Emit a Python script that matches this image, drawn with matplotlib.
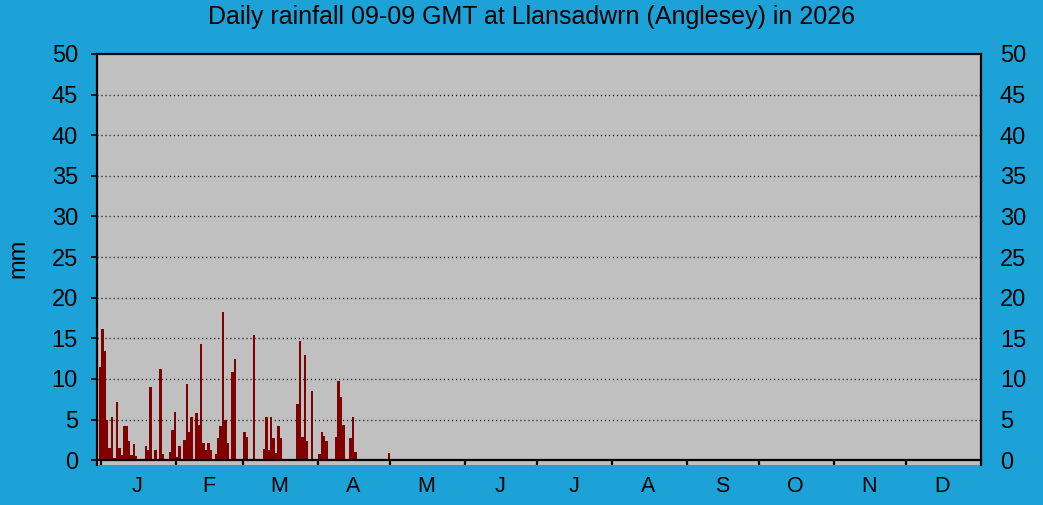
import numpy as np
import matplotlib
matplotlib.use("Agg")
import matplotlib.pyplot as plt

plt.rcParams['font.family'] = ['Liberation Sans', 'DejaVu Sans']

# daily rainfall (mm), 09-09 GMT
jan = [11.5, 16.2, 13.4, 4.9, 1.5, 5.3, 0.3, 7.2, 1.5, 0.6, 4.2, 4.2, 2.3, 0.6, 2.0, 0.5,
       0, 0, 0, 1.7, 1.3, 9.0, 0, 1.2, 0, 11.2, 0.7, 0, 0.2, 1.0, 3.7]
feb = [5.9, 0.4, 1.8, 0, 2.5, 9.4, 3.5, 5.3, 0.2, 5.8, 4.3, 14.3, 2.1, 1.2, 2.1, 1.2,
       0, 0.7, 2.7, 4.2, 18.2, 4.9, 2.1, 0, 10.8, 12.4, 0, 0]
mar = [0, 3.5, 2.9, 0, 0, 15.4, 0, 0, 0, 1.4, 5.3, 1.2, 5.3, 2.7, 0.9, 4.2, 2.7,
       0, 0, 0, 0, 0, 0, 6.9, 14.7, 2.9, 13.0, 2.3, 0, 8.5, 0.2]
apr = [0, 0.8, 3.5, 3.0, 2.4, 0, 0, 0, 2.8, 9.8, 7.8, 4.3, 0, 0, 2.7, 5.3, 1.0,
       0, 0, 0, 0, 0, 0, 0, 0, 0, 0, 0, 0, 0]
may = [0.9]

month_labels = ['J', 'F', 'M', 'A', 'M', 'J', 'J', 'A', 'S', 'O', 'N', 'D']
month_days = [31, 28, 31, 30, 31, 30, 31, 31, 30, 31, 30, 31]

rain = np.array(jan + feb + mar + apr + may)
days = np.arange(len(rain))

month_start = np.concatenate([[0], np.cumsum(month_days)[:-1]])
month_mid = month_start + np.array(month_days) / 2.0

bg = '#1ca2d6'
fig = plt.figure(figsize=(10.43, 5.05), dpi=100, facecolor=bg)
ax = fig.add_axes([0.0927, 0.0792, 0.8479, 0.8139])
ax.set_facecolor('#c0c0c0')

ax.bar(days, rain, width=1.0, color='#800000', linewidth=0, align='center',
       antialiased=False, zorder=3)

ax.set_xlim(-1.4, 365.6)
ax.set_ylim(-0.6, 50)

for y in range(5, 50, 5):
    ax.axhline(y, color='black', lw=1.0, linestyle=(0, (0.7, 2.2)), zorder=2)
ax.axhline(0, color='black', lw=1.6, zorder=4)

for s in ['left', 'right', 'top']:
    ax.spines[s].set_linewidth(1.6)
    ax.spines[s].set_color('black')
ax.spines['bottom'].set_visible(False)

ax.set_yticks(range(0, 51, 5))
ax.tick_params(axis='y', which='both', left=True, right=False, labelleft=True, labelright=True,
               direction='out', length=4.5, width=1.2, labelsize=17, pad=9, colors='black')

ax.set_xticks(month_start + 0.4)
ax.set_xticklabels([])
ax.set_xticks(month_mid, minor=True)
ax.set_xticklabels(month_labels, minor=True)
ax.tick_params(axis='x', which='major', direction='in', length=4, width=1.6, bottom=True)
ax.tick_params(axis='x', which='minor', length=0, labelsize=15.5, pad=8)

fig.text(531.5 / 1043, 1 - 17 / 505, 'Daily rainfall 09-09 GMT at Llansadwrn (Anglesey) in 2026',
         ha='center', va='center', fontsize=18)
fig.text(18 / 1043, 1 - 258 / 505, 'mm', rotation=90, ha='center', va='center', fontsize=17)

fig.savefig('out.png', dpi=100, facecolor=bg)
